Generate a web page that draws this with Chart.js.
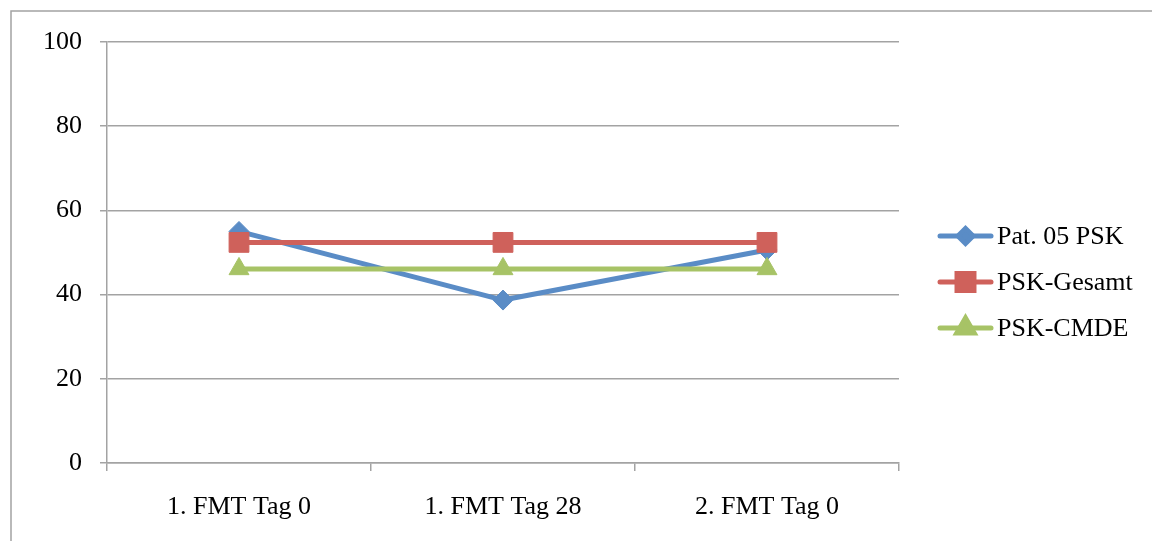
<!DOCTYPE html>
<html>
<head>
<meta charset="utf-8">
<script src="https://cdn.jsdelivr.net/npm/chart.js@4/dist/chart.umd.min.js"></script>
<style>
  html, body { margin: 0; padding: 0; background: #ffffff; }
  #wrap { position: relative; width: 1152px; height: 541px; }
</style>
</head>
<body>
<div id="wrap"><canvas id="c" width="1152" height="541"></canvas></div>
<script>
// Time points
const categories = ['1. FMT Tag 0', '1. FMT Tag 28', '2. FMT Tag 0'];
// Series values
const pat05Psk = [55.0, 38.7, 50.6];
const pskGesamt = [52.4, 52.4, 52.4];
const pskCmde = [46.1, 46.1, 46.1];
// Value axis ticks
const yTickMin = 0;
const yTickMax = 100;
const yTickStep = 20;

const FONT = "'Liberation Serif', 'Times New Roman', serif";
const GRID = '#a3a3a3';

// Frame around the whole chart object
const framePlugin = {
  id: 'frame',
  beforeDraw(chart) {
    const ctx = chart.ctx;
    ctx.save();
    ctx.fillStyle = '#ffffff';
    ctx.fillRect(0, 0, chart.width, chart.height);
    ctx.strokeStyle = GRID;
    ctx.lineWidth = 1.5;
    ctx.strokeRect(11, 11, chart.width + 20, chart.height + 20);
    ctx.restore();
  }
};

// Legend on the right: line sample with marker, then label
const lineLegendPlugin = {
  id: 'lineLegend',
  afterDraw(chart) {
    const ctx = chart.ctx;
    const rows = [236, 282, 328];
    const legendRadius = [7.5, 12, 10];
    chart.data.datasets.forEach((ds, i) => {
      const y = rows[i];
      ctx.save();
      ctx.strokeStyle = ds.borderColor;
      ctx.lineWidth = 5;
      ctx.lineCap = 'round';
      ctx.beginPath();
      ctx.moveTo(940, y);
      ctx.lineTo(991, y);
      ctx.stroke();
      ctx.fillStyle = ds.pointBackgroundColor;
      ctx.strokeStyle = ds.pointBorderColor;
      Chart.helpers.drawPoint(ctx, {
        pointStyle: ds.pointStyle,
        radius: legendRadius[i],
        rotation: 0,
        borderWidth: 1
      }, 965.5, y);
      ctx.fillStyle = '#000000';
      ctx.font = '26px ' + FONT;
      ctx.textBaseline = 'middle';
      ctx.textAlign = 'left';
      ctx.fillText(ds.label, 997, y + 1);
      ctx.restore();
    });
  }
};

function series(label, data, color, style, radius, order) {
  return {
    label, data, order,
    borderColor: color,
    backgroundColor: color,
    borderWidth: 5,
    borderCapStyle: 'round',
    borderJoinStyle: 'round',
    pointStyle: style,
    pointRadius: radius,
    pointHoverRadius: radius,
    pointBackgroundColor: color,
    pointBorderColor: color,
    pointBorderWidth: 1,
    tension: 0,
    fill: false
  };
}

new Chart(document.getElementById('c'), {
  type: 'line',
  data: {
    labels: categories,
    datasets: [
      series('Pat. 05 PSK', pat05Psk, '#5a8cc6', 'rectRot', 10, 3),
      series('PSK-Gesamt', pskGesamt, '#cf615b', 'rect', 14, 2),
      series('PSK-CMDE', pskCmde, '#a7c366', 'triangle', 11.5, 1)
    ]
  },
  options: {
    responsive: false,
    animation: false,
    events: [],
    layout: { padding: { left: 0, right: 253, top: 42, bottom: 0 } },
    plugins: {
      legend: { display: false },
      tooltip: { enabled: false }
    },
    scales: {
      x: {
        type: 'category',
        offset: true,
        afterFit(scale) { scale.height = 78; },
        grid: {
          display: true,
          offset: true,
          drawOnChartArea: false,
          drawTicks: true,
          tickLength: 8,
          color: GRID,
          lineWidth: 1.5
        },
        border: { display: true, color: GRID, width: 1.5 },
        ticks: {
          color: '#000000',
          font: { family: FONT, size: 26 },
          padding: 21,
          maxRotation: 0,
          autoSkip: false
        }
      },
      y: {
        min: yTickMin,
        max: yTickMax,
        afterFit(scale) { scale.width = 107; },
        grid: {
          color: GRID,
          lineWidth: 1.5,
          drawTicks: true,
          tickLength: 7
        },
        border: { display: true, color: GRID, width: 1.5 },
        ticks: {
          stepSize: yTickStep,
          color: '#000000',
          font: { family: FONT, size: 26 },
          padding: 18
        }
      }
    }
  },
  plugins: [framePlugin, lineLegendPlugin]
});
</script>
</body>
</html>
